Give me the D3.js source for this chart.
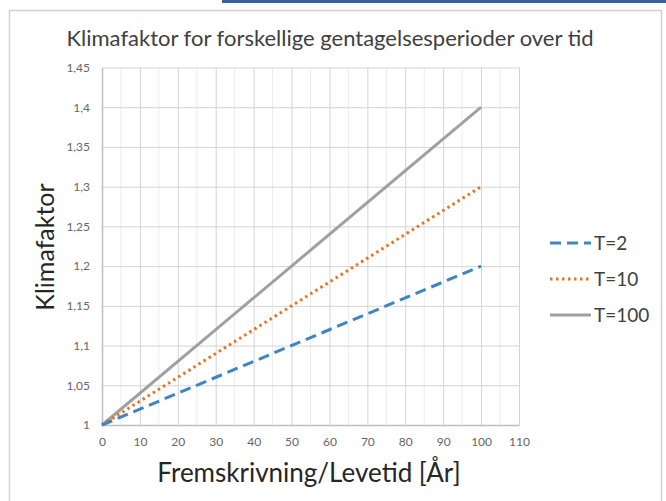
<!DOCTYPE html>
<html><head><meta charset="utf-8">
<script src="https://cdn.jsdelivr.net/npm/d3@7"></script>
<style>body{margin:0;background:#fff}svg{display:block}text{font-family:Lato,"Open Sans",sans-serif}</style>
</head><body>
<script>
const years = [0, 100];
const seriesNames = ["T=2", "T=10", "T=100"];
const t2 = [1, 1.2];
const t10 = [1, 1.3];
const t100 = [1, 1.4];
const xTicks = [0,10,20,30,40,50,60,70,80,90,100,110];
const yTicks = [1,1.05,1.1,1.15,1.2,1.25,1.3,1.35,1.4,1.45];
const title = "Klimafaktor for forskellige gentagelsesperioder over tid";
const xTitle = "Fremskrivning/Levetid [År]";
const yTitle = "Klimafaktor";

const W = 666, H = 501;
const svg = d3.select("body").append("svg").attr("width", W).attr("height", H);

// top blue bar and chart frame
svg.append("rect").attr("x", 222).attr("y", 0).attr("width", W-222).attr("height", 3).attr("fill", "#3b6391");
svg.append("rect").attr("x", 9.5).attr("y", 10.5).attr("width", 652).attr("height", 500)
  .attr("fill", "none").attr("stroke", "#d0d0d0").attr("stroke-width", 1.5);

const m = {left: 102, right: 519, top: 67.5, bottom: 425};
const x = d3.scaleLinear().domain([0, 110]).range([m.left, m.right]);
const y = d3.scaleLinear().domain([1, 1.45]).range([m.bottom, m.top]);

// minor vertical grid
const minor = d3.range(5, 110, 10);
svg.append("g").selectAll("line").data(minor).join("line")
  .attr("x1", d => x(d)).attr("x2", d => x(d)).attr("y1", m.top).attr("y2", m.bottom)
  .attr("stroke", "#ececec").attr("stroke-width", 1);

// major grid
svg.append("g").attr("transform", `translate(0,${m.bottom})`)
  .call(d3.axisBottom(x).tickValues(xTicks.slice(1)).tickSize(-(m.bottom - m.top)).tickFormat(""))
  .call(g => g.select(".domain").remove())
  .call(g => g.selectAll("line").attr("stroke", "#d4d4d4"));
svg.append("g").attr("transform", `translate(${m.left},0)`)
  .call(d3.axisLeft(y).tickValues(yTicks.slice(1)).tickSize(-(m.right - m.left)).tickFormat(""))
  .call(g => g.select(".domain").remove())
  .call(g => g.selectAll("line").attr("stroke", "#d4d4d4"));

// axes
const fmt = d => String(+d.toFixed(2)).replace(".", ",");
svg.append("g").attr("transform", `translate(0,${m.bottom})`)
  .call(d3.axisBottom(x).tickValues(xTicks).tickSize(0).tickPadding(12))
  .call(g => g.select(".domain").attr("stroke", "#bfbfbf").attr("stroke-width", 1.5))
  .call(g => g.selectAll("text").attr("fill", "#666").attr("font-size", 12));
svg.append("g").attr("transform", `translate(${m.left},0)`)
  .call(d3.axisLeft(y).tickValues(yTicks).tickSize(0).tickPadding(12).tickFormat(fmt))
  .call(g => g.select(".domain").attr("stroke", "#bfbfbf").attr("stroke-width", 1.5))
  .call(g => g.selectAll("text").attr("fill", "#666").attr("font-size", 12));

// series
const styles = [
  {color: "#3d85c6", dash: "11,6", cap: "butt"},
  {color: "#e8741e", dash: "2.5,3.5", cap: "butt"},
  {color: "#a0a0a0", dash: null, cap: "butt"}
];
const data = [t2, t10, t100];
const line = d3.line().x((d, i) => x(years[i])).y(d => y(d));
[2,1,0].forEach(k => {
  svg.append("path").datum(data[k]).attr("d", line)
    .attr("fill", "none").attr("stroke", styles[k].color).attr("stroke-width", 3)
    .attr("stroke-dasharray", styles[k].dash).attr("stroke-linecap", styles[k].cap);
});

// legend
const lg = svg.append("g");
const ly = [243, 279, 315];
seriesNames.forEach((n, k) => {
  lg.append("line").attr("x1", 550).attr("x2", 591).attr("y1", ly[k]).attr("y2", ly[k])
    .attr("stroke", styles[k].color).attr("stroke-width", 3).attr("stroke-dasharray", styles[k].dash);
  lg.append("text").attr("x", 594).attr("y", ly[k]).attr("dy", "0.35em")
    .attr("font-size", 19).attr("fill", "#404040").text(n);
});

// titles
svg.append("text").attr("x", 330).attr("y", 46).attr("text-anchor", "middle")
  .attr("font-size", 22).attr("fill", "#404040").text(title);
svg.append("text").attr("x", 309).attr("y", 482).attr("text-anchor", "middle")
  .attr("font-size", 26).attr("fill", "#262626").text(xTitle);
svg.append("text").attr("transform", "translate(54,247) rotate(-90)").attr("text-anchor", "middle")
  .attr("font-size", 25).attr("fill", "#262626").text(yTitle);
</script>
</body></html>
